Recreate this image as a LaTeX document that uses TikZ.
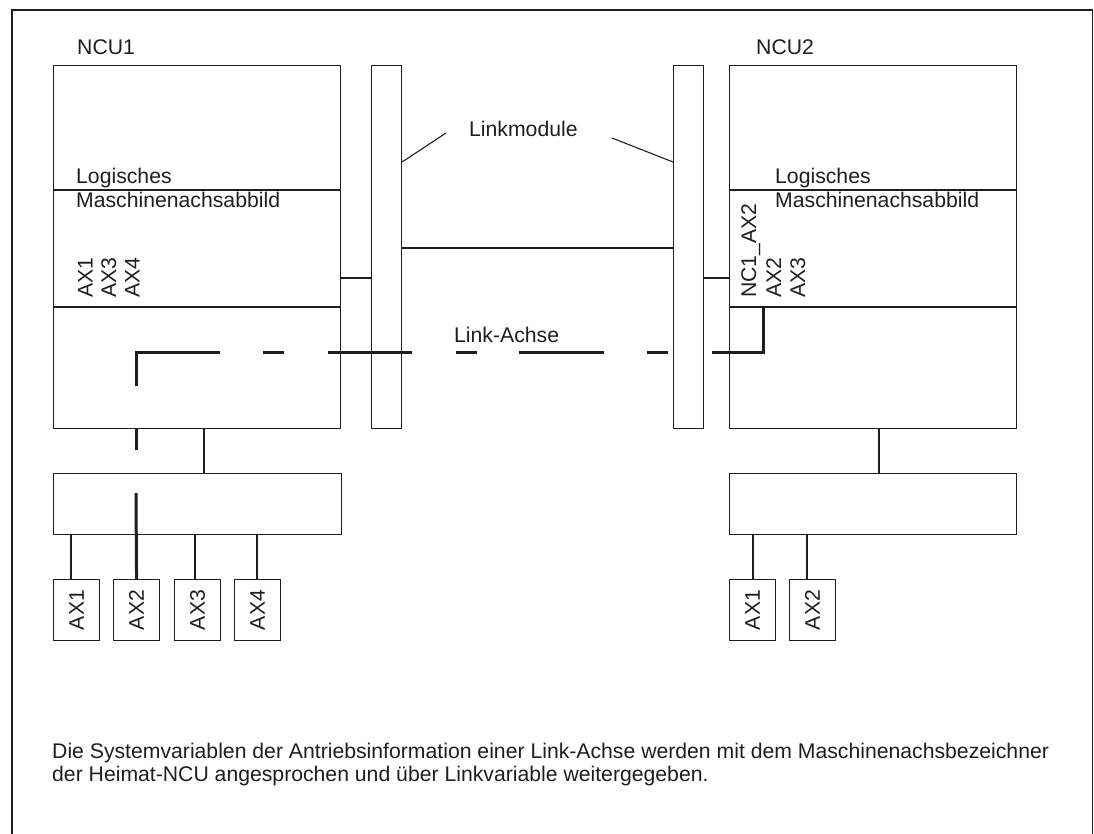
\documentclass[tikz,border=0pt]{standalone}
\usepackage{fontspec}
\setmainfont{Liberation Sans}
\definecolor{ink}{RGB}{30,30,30}
\begin{document}
\begin{tikzpicture}[x=1pt,y=-1pt,
  every node/.style={text=ink},
  box/.style={draw=ink, line width=1.1pt, inner sep=0pt, anchor=north west},
  conn/.style={draw=ink, line width=1.1pt},
  axis/.style={draw=ink, line width=3pt, line cap=butt, line join=miter},
  lbl/.style={inner sep=0pt, anchor=base west, font=\fontsize{21.2}{24}\selectfont},
  rlbl/.style={lbl, rotate=90},
  note/.style={inner sep=0pt, anchor=base west, font=\fontsize{21.2}{24}\selectfont}]
\useasboundingbox (0,0) rectangle (1094,834);
% outer frame (bottom cut off)
\draw[conn] (12,850) -- (12,10) -- (1092.5,10) -- (1092.5,850);

% main boxes
\node[box, minimum width=287pt, minimum height=363pt] (ncu1) at (53,65) {};
\node[box, minimum width=30pt, minimum height=363pt] (lm1) at (371,65) {};
\node[box, minimum width=30pt, minimum height=363pt] (lm2) at (673,65) {};
\node[box, minimum width=287pt, minimum height=363pt] (ncu2) at (729,65) {};
\draw[conn] (ncu1.west |- 0,190) -- (ncu1.east |- 0,190);
\draw[conn] (ncu1.west |- 0,307) -- (ncu1.east |- 0,307);
\draw[conn] (ncu2.west |- 0,190) -- (ncu2.east |- 0,190);
\draw[conn] (ncu2.west |- 0,307) -- (ncu2.east |- 0,307);

% drive buses
\node[box, minimum width=288pt, minimum height=61pt] (bus1) at (53,473) {};
\node[box, minimum width=287pt, minimum height=61pt] (bus2) at (729,473) {};

% drive boxes
\node[box, minimum width=46pt, minimum height=61pt] (d1) at (53,579) {};
\node[box, minimum width=46pt, minimum height=61pt] (d2) at (113,579) {};
\node[box, minimum width=46pt, minimum height=61pt] (d3) at (174,579) {};
\node[box, minimum width=46pt, minimum height=61pt] (d4) at (234,579) {};
\node[box, minimum width=46pt, minimum height=61pt] (e1) at (729,579) {};
\node[box, minimum width=46pt, minimum height=61pt] (e2) at (789,579) {};
\node[rlbl, anchor=center] (t1) at (d1.center) {AX1};
\node[rlbl, anchor=center] (t2) at (d2.center) {AX2};
\node[rlbl, anchor=center] (t3) at (d3.center) {AX3};
\node[rlbl, anchor=center] (t4) at (d4.center) {AX4};
\node[rlbl, anchor=center] (u1) at (e1.center) {AX1};
\node[rlbl, anchor=center] (u2) at (e2.center) {AX2};

% connectors
\draw[conn] (ncu1.east |- 0,278) -- (lm1.west |- 0,278);
\draw[conn] (lm1.east |- 0,248) -- (lm2.west |- 0,248);
\draw[conn] (lm2.east |- 0,278) -- (ncu2.west |- 0,278);
\draw[conn] (ncu1.south -| 204,0) -- (bus1.north -| 204,0);
\draw[conn] (ncu2.south -| 879,0) -- (bus2.north -| 879,0);
\draw[conn] (bus1.south -| 71,0) -- (d1.north -| 71,0);
\draw[conn] (bus1.south -| 195,0) -- (d3.north -| 195,0);
\draw[conn] (bus1.south -| 257,0) -- (d4.north -| 257,0);
\draw[conn] (bus2.south -| 753,0) -- (e1.north -| 753,0);
\draw[conn] (bus2.south -| 807,0) -- (e2.north -| 807,0);

% link axis (thick dash-dot)
\coordinate (corner) at (136,352);
\coordinate (axend) at (763,307);
\draw[axis] (d2.north) -- (136,493);
\draw[axis] (136,450) -- (136,428);
\draw[axis] (136,386) -- (corner) -- (220,352);
\draw[axis] (263,352) -- (284,352);
\draw[axis] (328,352) -- (412,352);
\draw[axis] (456,352) -- (477,352);
\draw[axis] (519,352) -- (604,352);
\draw[axis] (647,352) -- (668,352);
\draw[axis] (712,352) -- (763,352) -- (axend);

% labels
\node[lbl] (n1) at (77,55) {NCU1};
\node[lbl] (n2) at (756,55) {NCU2};
\node[lbl] (lg1) at (76,184) {Logisches};
\node[lbl] (ma1) at (76,208) {Maschinenachsabbild};
\node[lbl] (lg2) at (775,184) {Logisches};
\node[lbl] (ma2) at (775,208) {Maschinenachsabbild};
\node[lbl] (lmod) at (469,137) {Linkmodule};
\node[lbl] (lax) at (454,342) {Link-Achse};
\draw[conn] (lm1.east |- 0,162) -- (446,133);
\draw[conn] (612,138) -- (lm2.west |- 0,162);

\node[rlbl] (a1) at (92.5,298) {AX1};
\node[rlbl] (a3) at (116,298) {AX3};
\node[rlbl] (a4) at (139.5,298) {AX4};
\node[rlbl] (b1) at (756,298) {NC1\_AX2};
\node[rlbl] (b2) at (781,298) {AX2};
\node[rlbl] (b3) at (805,298) {AX3};

\node[note] (txt1) at (52,758) {Die Systemvariablen der Antriebsinformation einer Link-Achse werden mit dem Maschinenachsbezeichner};
\node[note] (txt2) at (52,781) {der Heimat-NCU angesprochen und über Linkvariable weitergegeben.};
\end{tikzpicture}
\end{document}
